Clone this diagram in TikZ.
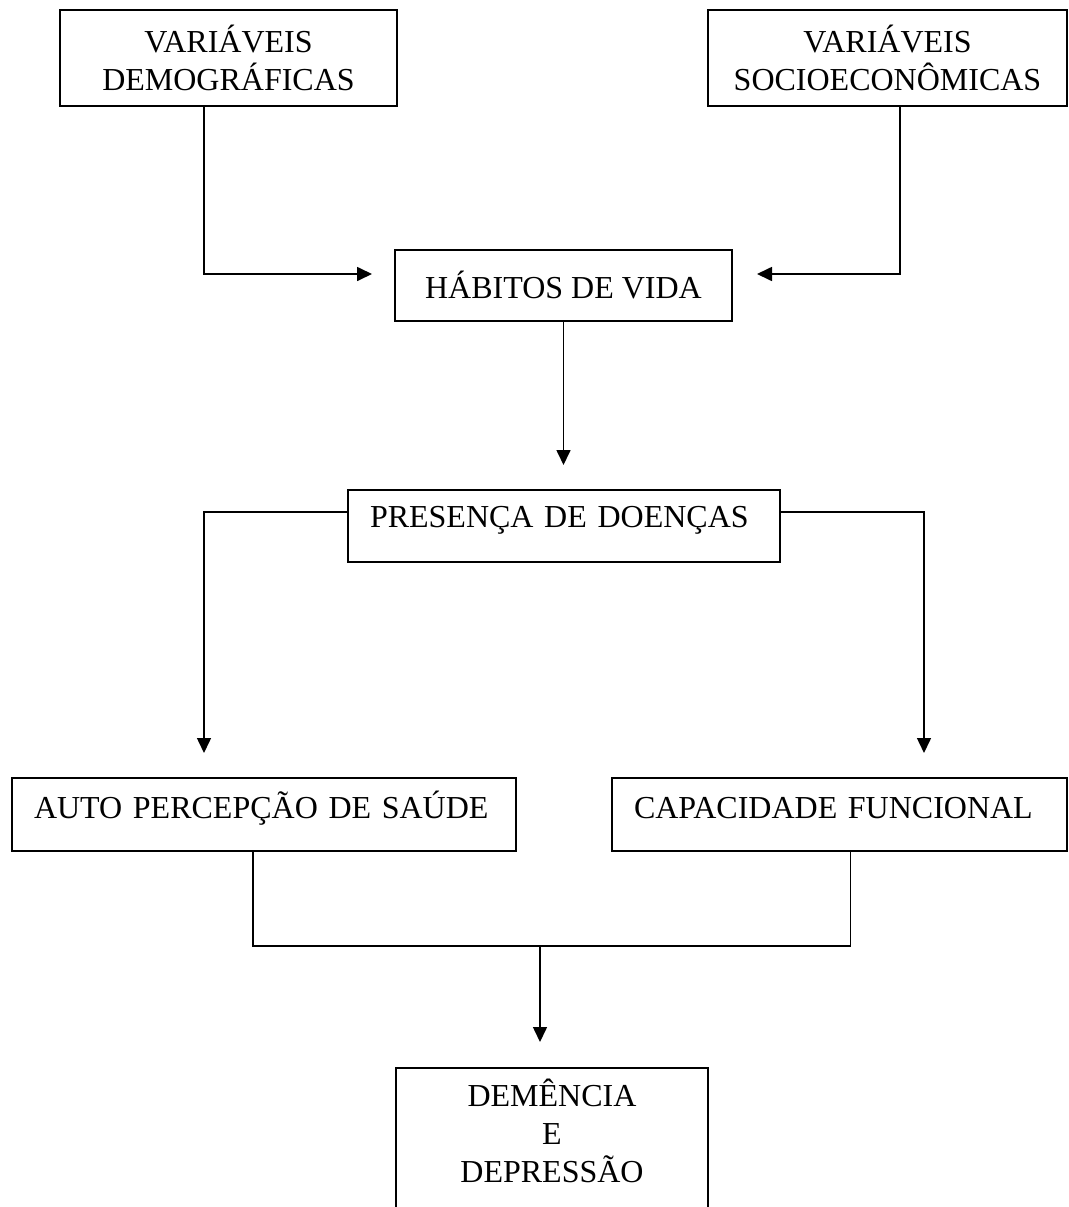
\documentclass[tikz,border=0pt]{standalone}
\usepackage{fontspec}
\setmainfont{Liberation Serif}
\usetikzlibrary{arrows.meta}
\begin{document}
\begin{tikzpicture}[x=1pt,y=-1pt,
  box/.style={draw, line width=1.7pt, rectangle, inner sep=0pt, font=\fontsize{32}{38}\selectfont},
  cbox/.style={box, align=center},
  lbox/.style={box, inner xsep=22pt, align=left},
  link/.style={line width=1.5pt},
  arr/.style={line width=1.7pt, -{Triangle[length=15pt,width=14pt]}}]
\path[use as bounding box, clip] (0,0) rectangle (1068,1207);

\node[cbox, minimum width=337pt, minimum height=96pt] (dem) at (228.5,58) {VARIÁVEIS\\DEMOGRÁFICAS};
\node[cbox, minimum width=359pt, minimum height=96pt] (soc) at (887.5,58) {VARIÁVEIS\\SOCIOECONÔMICAS};
\node[cbox, minimum width=337pt, minimum height=71pt, text height=25pt, text depth=0pt] (hab) at (563.5,285.5) {HÁBITOS DE VIDA};
\node[lbox, text width=388pt, minimum height=72pt, text height=22pt, text depth=20pt] (pre) at (564,526) {PRESENÇA DE DOENÇAS};
\node[lbox, line width=1.5pt, text width=460pt, minimum height=73pt, text height=22pt, text depth=15pt] (auto) at (264,814.5) {AUTO PERCEPÇÃO DE SAÚDE};
\node[lbox, line width=1.5pt, text width=411pt, minimum height=73pt, text height=22pt, text depth=15pt] (cap) at (839.5,814.5) {CAPACIDADE FUNCIONAL};
\node[cbox, line width=1.5pt, anchor=north, minimum width=312pt, minimum height=150pt, text depth=24pt] (dd) at (552,1067) {DEMÊNCIA\\E\\DEPRESSÃO};

\coordinate (tipL) at (372,274);
\coordinate (tipR) at (757,274);
\coordinate (tipH) at (563.5,465);
\coordinate (tipA) at (204,753);
\coordinate (tipC) at (924,753);
\coordinate (mid) at (540,946);
\coordinate (tipD) at (540,1042);

\draw[arr] ([xshift=-24.5pt]dem.south) |- (tipL);
\draw[arr] ([xshift=12.5pt]soc.south) |- (tipR);
\draw[arr] (hab.south) -- (tipH);
\draw[arr, line width=1.5pt] ([yshift=-23pt]pre.north west) -| (tipA);
\draw[arr, line width=1.5pt] ([yshift=-23pt]pre.north east) -| (tipC);
\draw[link] ([xshift=-11pt]auto.south) |- (mid) -| ([xshift=11pt]cap.south);
\draw[arr, line width=1.5pt] (mid) -- (tipD);
\end{tikzpicture}
\end{document}
